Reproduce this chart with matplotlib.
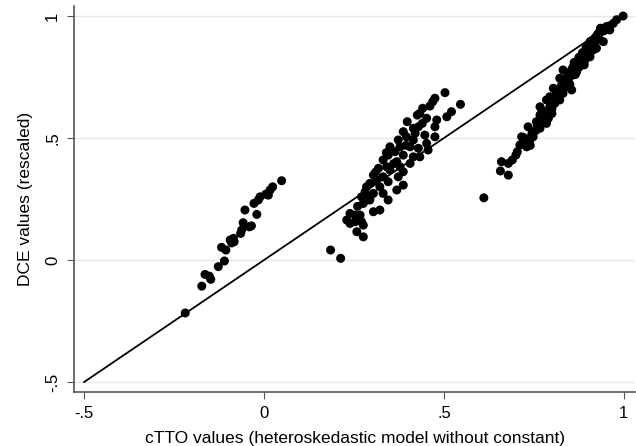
import matplotlib.pyplot as plt

plt.rcParams['font.family'] = ['Liberation Sans', 'DejaVu Sans']

# cTTO value (x) and DCE value (y) for each health state
ctto = [
    # left group
    0.049, 0.024, 0.017, 0.012, -0.011, -0.016, -0.028, -0.053, -0.020, -0.058,
    -0.041, -0.062, -0.065, -0.085, -0.094, -0.083, -0.118, -0.106, -0.110, -0.127,
    -0.164, -0.152, -0.148, -0.173, -0.219, -0.090, -0.035, 0.005,
    # middle group
    0.503, 0.546, 0.475, 0.469, 0.461, 0.441, 0.433, 0.426, 0.521, 0.508,
    0.398, 0.452, 0.480, 0.475, 0.429, 0.415, 0.387, 0.447, 0.396, 0.373,
    0.415, 0.475, 0.452, 0.350, 0.378, 0.406, 0.429, 0.456, 0.364, 0.345,
    0.387, 0.415, 0.433, 0.331, 0.369, 0.406, 0.341, 0.378, 0.318, 0.350,
    0.387, 0.304, 0.331, 0.373, 0.313, 0.345, 0.294, 0.285, 0.322, 0.369,
    0.387, 0.281, 0.304, 0.331, 0.271, 0.294, 0.345, 0.276, 0.322, 0.304,
    0.239, 0.253, 0.230, 0.271, 0.239, 0.267, 0.253, 0.276, 0.258, 0.276,
    0.185, 0.213, 0.294, 0.360, 0.395, 0.420, 0.440, 0.340, 0.310, 0.260,
    # right group
    0.611, 0.657, 0.679, 0.660, 0.679, 0.704, 0.711, 0.730, 0.716, 0.739,
    0.748, 0.734, 0.767, 0.757, 0.785, 0.767, 0.790, 0.799, 0.767, 0.785,
    0.808, 0.822, 0.794, 0.813, 0.831, 0.855, 0.804, 0.827, 0.841, 0.822,
    0.845, 0.831, 0.869, 0.859, 0.882, 0.869, 0.892, 0.878, 0.906, 0.892,
    0.915, 0.901, 0.924, 0.906, 0.919, 0.943, 0.929, 0.938, 0.961, 0.971,
    0.998, 0.952, 0.745, 0.760, 0.775, 0.780, 0.795, 0.800, 0.810, 0.815,
    0.820, 0.830, 0.835, 0.840, 0.845, 0.850, 0.855, 0.860, 0.862, 0.870,
    0.875, 0.880, 0.885, 0.890, 0.895, 0.900, 0.910, 0.912, 0.920, 0.925,
    0.930, 0.935, 0.945, 0.960, 0.980, 0.850, 0.865, 0.875, 0.890, 0.905,
    0.800, 0.790, 0.770, 0.755, 0.725, 0.740, 0.700, 0.720, 0.690,
]
dce = [
    # left group
    0.325, 0.300, 0.287, 0.266, 0.259, 0.246, 0.232, 0.205, 0.187, 0.153,
    0.136, 0.123, 0.109, 0.089, 0.082, 0.075, 0.052, 0.041, -0.004, -0.027,
    -0.059, -0.066, -0.079, -0.107, -0.217, 0.070, 0.140, 0.270,
    # middle group
    0.686, 0.638, 0.663, 0.649, 0.631, 0.622, 0.601, 0.594, 0.608, 0.587,
    0.567, 0.581, 0.574, 0.546, 0.546, 0.540, 0.526, 0.512, 0.505, 0.492,
    0.492, 0.505, 0.478, 0.464, 0.464, 0.464, 0.458, 0.451, 0.444, 0.430,
    0.430, 0.423, 0.423, 0.410, 0.403, 0.396, 0.382, 0.382, 0.376, 0.369,
    0.362, 0.348, 0.341, 0.341, 0.328, 0.321, 0.314, 0.300, 0.300, 0.287,
    0.307, 0.280, 0.273, 0.273, 0.259, 0.253, 0.246, 0.232, 0.205, 0.198,
    0.191, 0.184, 0.164, 0.157, 0.150, 0.184, 0.157, 0.143, 0.116, 0.095,
    0.041, 0.007, 0.246, 0.395, 0.470, 0.520, 0.560, 0.440, 0.360, 0.220,
    # right group
    0.255, 0.365, 0.348, 0.403, 0.396, 0.444, 0.471, 0.464, 0.505, 0.492,
    0.505, 0.546, 0.540, 0.567, 0.560, 0.594, 0.594, 0.608, 0.628, 0.656,
    0.642, 0.656, 0.669, 0.683, 0.683, 0.697, 0.704, 0.717, 0.731, 0.745,
    0.758, 0.779, 0.772, 0.792, 0.799, 0.813, 0.820, 0.833, 0.833, 0.854,
    0.861, 0.874, 0.868, 0.895, 0.909, 0.895, 0.929, 0.936, 0.943, 0.970,
    1.000, 0.957, 0.520, 0.550, 0.575, 0.610, 0.630, 0.620, 0.670, 0.660,
    0.700, 0.700, 0.740, 0.710, 0.760, 0.750, 0.780, 0.770, 0.810, 0.800,
    0.830, 0.820, 0.850, 0.840, 0.870, 0.860, 0.880, 0.900, 0.890, 0.920,
    0.910, 0.950, 0.940, 0.960, 0.985, 0.720, 0.760, 0.790, 0.800, 0.850,
    0.600, 0.580, 0.600, 0.530, 0.500, 0.470, 0.430, 0.480, 0.410,
]

ticks = [-0.5, 0, 0.5, 1]
tick_labels = ['-.5', '0', '.5', '1']

fig = plt.figure(figsize=(6.36, 4.46), dpi=100)
ax = fig.add_axes([0.1164, 0.121, 0.882, 0.8655])

ax.plot([-0.5, 1], [-0.5, 1], color='black', lw=1.3, zorder=2)
ax.scatter(ctto, dce, s=42, color='black', edgecolors='none', zorder=3)

ax.set_xlim(-0.528, 1.031)
ax.set_ylim(-0.541, 1.041)
ax.set_xticks(ticks)
ax.set_xticklabels(tick_labels)
ax.set_yticks(ticks)
ax.set_yticklabels(tick_labels, rotation=90, va='center')
ax.yaxis.grid(True, color='#e6e6e6', lw=1.0)
ax.set_axisbelow(True)

for side in ['top', 'right']:
    ax.spines[side].set_visible(False)
for side in ['left', 'bottom']:
    ax.spines[side].set_color('#555555')
    ax.spines[side].set_linewidth(1.2)
ax.tick_params(length=5, color='#555555', labelsize=12, pad=5)

ax.set_xlabel('cTTO values (heteroskedastic model without constant)', fontsize=12.5, labelpad=7)
ax.set_ylabel('DCE values (rescaled)', fontsize=12.5, labelpad=9)

fig.savefig('out.png', dpi=100)
